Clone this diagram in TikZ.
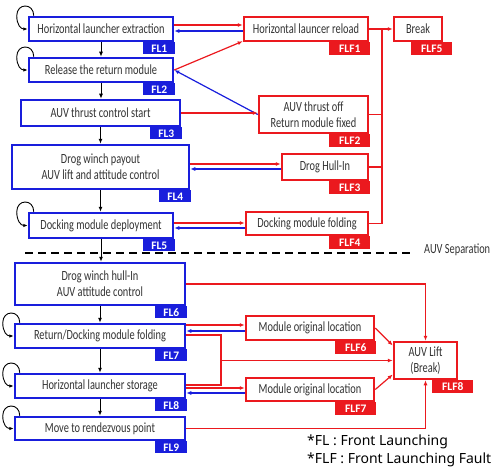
\documentclass[tikz,border=0pt]{standalone}
\usepackage{fontspec}
\setmainfont{Carlito}
\newfontfamily\boxfont[FakeStretch=0.74]{Carlito}
\newfontfamily\legfont{Noto Sans}
\usetikzlibrary{arrows.meta,calc}
\definecolor{flblue}{RGB}{25,30,220}
\definecolor{flred}{RGB}{235,25,30}
\tikzset{
 flbox/.style={draw=flblue, line width=2.5pt, fill=white, inner sep=0pt, align=center, text=black!80, font=\boxfont\fontsize{14}{16}\selectfont},
 flfbox/.style={flbox, draw=flred},
 fltab/.style={fill=flblue, text=white, font=\bfseries\fontsize{11.5}{11.5}\selectfont, minimum width=32pt, minimum height=12pt, inner sep=0pt, anchor=north east},
 flftab/.style={fltab, fill=flred, minimum width=41pt, minimum height=13pt},
 downarr/.style={-{Latex[length=5pt,width=4pt]}, line width=1pt, black},
 redarr/.style={-{Latex[length=5pt,width=4pt]}, line width=1.2pt, flred},
 redln/.style={line width=1.2pt, flred},
 bluearr/.style={-{Latex[length=5pt,width=4pt]}, line width=1.2pt, flblue},
 loopln/.style={-{Latex[length=4.5pt,width=3.5pt]}, line width=0.9pt, black},
 sepline/.style={line width=2.4pt, dash pattern=on 8pt off 5pt},
}
\newcommand\bluetag[3][0]{\node[fltab] (#2t) at ($(#2.south east)+(1.25+#1,0)$) {#3};}
\newcommand\redtag[3][0]{\node[flftab] (#2t) at ($(#2.south east)+(1.25+#1,0)$) {#3};}
\newcommand\mkloop[1]{\draw[loopln] ($(#1.north west)+(6,0)$) .. controls ($(#1.north west)+(6,-13)$) and ($(#1.north west)+(-11,-13)$) .. ($(#1.north west)+(-11,0)$) .. controls ($(#1.north west)+(-11,9)$) and ($(#1.west)+(-7,0)$) .. (#1.west);}
\newcommand\twoway[4]{%
 \coordinate (twA) at ($(#2.west)+(0,#3)$);
 \coordinate (twB) at ($(#2.west)+(0,#4)$);
 \draw[redarr] (twA -| #1.east) -- (twA);
 \draw[bluearr] (twB) -- (twB -| #1.east);
}
\begin{document}
\begin{tikzpicture}[x=1pt,y=-1pt]
\useasboundingbox (0,0) rectangle (502,473);
% left column
\node[flbox, minimum width=144pt, minimum height=24pt] (fl1) at (101,29) {Horizontal launcher extraction};
\node[flbox, minimum width=144pt, minimum height=24pt] (fl2) at (101,70) {Release the return module};
\node[flbox, minimum width=159pt, minimum height=26pt] (fl3) at (100.5,113) {AUV thrust control start};
\node[flbox, minimum width=177pt, minimum height=44pt] (fl4) at (100.5,167) {Drog winch payout\\AUV lift and attitude control};
\node[flbox, minimum width=144pt, minimum height=25pt] (fl5) at (101,225.5) {Docking module deployment};
\node[flbox, minimum width=170pt, minimum height=42pt] (fl6) at (100,284) {Drog winch hull-In\\AUV attitude control};
\node[flbox, minimum width=170pt, minimum height=24pt] (fl7) at (100,336) {Return/Docking module folding};
\node[flbox, minimum width=170pt, minimum height=24pt] (fl8) at (100,386) {Horizontal launcher storage};
\node[flbox, minimum width=170pt, minimum height=23pt] (fl9) at (100,428.5) {Move to rendezvous point};
\bluetag{fl1}{FL1}
\bluetag{fl2}{FL2}
\bluetag{fl3}{FL3}
\bluetag{fl4}{FL4}
\bluetag{fl5}{FL5}
\bluetag{fl6}{FL6}
\bluetag{fl7}{FL7}
\bluetag{fl8}{FL8}
\bluetag{fl9}{FL9}
% right column
\node[flfbox, minimum width=124pt, minimum height=24pt] (flf1) at (306,29) {Horizontal launcer reload};
\node[flfbox, minimum width=48pt, minimum height=24pt] (flf5) at (418,29) {Break};
\node[flfbox, minimum width=109pt, minimum height=37pt] (flf2) at (313.5,114.5) {AUV thrust off\\Return module fixed};
\node[flfbox, minimum width=86pt, minimum height=26pt] (flf3) at (325,167) {Drog Hull-In};
\node[flfbox, minimum width=122pt, minimum height=23pt] (flf4) at (307,223.5) {Docking module folding};
\node[flfbox, minimum width=128pt, minimum height=24pt] (flf6) at (310,328) {Module original location};
\node[flfbox, minimum width=128pt, minimum height=23pt] (flf7) at (310,389.5) {Module original location};
\node[flfbox, minimum width=63pt, minimum height=37pt] (flf8) at (425.5,360.5) {AUV Lift\\(Break)};
\redtag{flf1}{FLF1}
\redtag[8]{flf5}{FLF5}
\redtag{flf2}{FLF2}
\redtag{flf3}{FLF3}
\redtag{flf4}{FLF4}
\redtag{flf6}{FLF6}
\redtag{flf7}{FLF7}
\redtag[14]{flf8}{FLF8}
% vertical flow
\draw[downarr] (fl1.south) -- (fl1.south |- fl2.north);
\draw[downarr] (fl2.south) -- (fl2.south |- fl3.north);
\draw[downarr] (fl3.south) -- (fl3.south |- fl4.north);
\draw[downarr] (fl4.south) -- (fl4.south |- fl5.north);
\draw[downarr] (fl5.south) -- (fl5.south |- fl6.north);
\draw[downarr] (fl6.south) -- (fl6.south |- fl7.north);
\draw[downarr] (fl7.south) -- (fl7.south |- fl8.north);
\draw[downarr] (fl8.south) -- (fl8.south |- fl9.north);
% self loops
\mkloop{fl1}
\mkloop{fl2}
\mkloop{fl5}
\mkloop{fl7}
\mkloop{fl8}
\mkloop{fl9}
% upper connections
\twoway{fl1}{flf1}{-4}{2}
\draw[bluearr] (flf2.west) -- (fl2.east);
\draw[redarr] (fl2.east) -- ($(flf1.south west)+(0,-1)$);
\draw[redarr] (fl3.east) -- (fl3.east -| flf2.west);
\twoway{fl4}{flf3}{-3}{2}
\twoway{fl5}{flf4}{-0.5}{4.5}
\coordinate (busx) at (382,0);
\draw[redarr] (flf1.east) -- (flf5.west);
\draw[redln] (busx |- flf1.east) -- (busx |- flf4.east);
\draw[redln] (flf2.east) -- (flf2.east -| busx);
\draw[redln] (flf3.east) -- (flf3.east -| busx);
\draw[redln] (flf4.east) -- (flf4.east -| busx);
% separation
\node[anchor=west, inner sep=0pt, text=black!80, font=\boxfont\fontsize{14}{16}\selectfont] (sep) at (424,250) {AUV Separation};
\coordinate (sepL) at (25,253);
\coordinate (sepR) at (414,253);
\draw[sepline] (sepL) -- (sepR);
% lower connections
\draw[redarr] (fl6.east) -| (flf8.north);
\twoway{fl7}{flf6}{-3}{3}
\twoway{fl8}{flf7}{-1.5}{3.5}
\coordinate (busy) at (221,0);
\coordinate (b7) at ($(fl7.east)+(0,-1)$);
\coordinate (b8) at ($(fl8.east)+(0,-1)$);
\draw[redln] (b7) -- (b7 -| busy) -- (b8 -| busy) -- (b8);
\draw[redarr] (busy |- flf8.west) -- (flf8.west);
\draw[redarr] (flf6.east) -- ($(flf8.west)+(0,-15)$);
\draw[redarr] (flf7.east) -- ($(flf8.west)+(0,14)$);
\draw[redarr] (fl9.east) -| (flf8.south);
% legend
\node[anchor=west, inner sep=0pt, align=left, font=\legfont\fontsize{14}{18.5}\selectfont] (leg) at (307,451) {*FL : Front Launching\\*FLF : Front Launching Fault};
\end{tikzpicture}
\end{document}
